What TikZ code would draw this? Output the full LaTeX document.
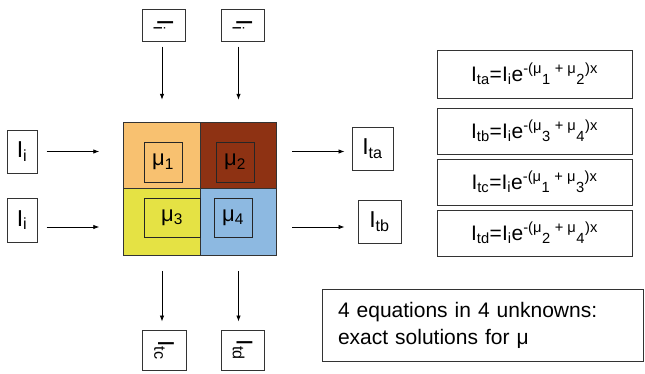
\documentclass[tikz,border=0pt]{standalone}
\usepackage{fontspec}
\setmainfont{Liberation Sans}
\usepackage{graphicx}
\usetikzlibrary{arrows.meta, positioning}
\definecolor{cellorange}{RGB}{248,193,112}
\definecolor{cellbrown}{RGB}{142,50,19}
\definecolor{cellyellow}{RGB}{229,226,68}
\definecolor{cellblue}{RGB}{141,185,225}

\begin{document}
\begin{tikzpicture}[x=1pt, y=-1pt,
        box/.style={rectangle, draw=black!80, line width=1pt, inner sep=0pt, align=center, font=\fontsize{23}{27}\selectfont},
        cell/.style={rectangle, draw=black!80, line width=1pt, inner sep=0pt, minimum width=76.5pt, minimum height=66.5pt},
        mubox/.style={rectangle, draw=black!85, line width=1pt, inner sep=0pt, minimum width=38pt, minimum height=40pt, font=\fontsize{22}{26}\selectfont},
        eqbox/.style={rectangle, draw=black!80, line width=1pt, inner sep=0pt, minimum width=195pt, minimum height=46pt, font=\fontsize{21}{25}\selectfont},
        arrow/.style={-{Latex[length=6pt, width=4.5pt]}, line width=0.8pt}
      ]
\useasboundingbox (0,0) rectangle (645,373);

% sample grid
\node[cell, fill=cellorange] (cell1) at (162,155.5) {};
      \node[cell, fill=cellbrown] (cell2) at (238.5,155.5) {};
      \node[cell, fill=cellyellow] (cell3) at (162,222) {};
      \node[cell, fill=cellblue] (cell4) at (238.5,222) {};

\node[mubox] (mu1) at (163,162) {μ\textsubscript{1}};
      \node[mubox] (mu2) at (235,162) {μ\textsubscript{2}};
      \node[mubox, minimum width=56pt, minimum height=39pt] (mu3) at (172,217.5) {μ\textsubscript{3}\hspace{18pt}};
      \node[mubox, minimum height=39pt] (mu4) at (233,217.5) {μ\textsubscript{4}};

% beams in and out
\node[box, minimum width=30pt, minimum height=43pt] (in1) at (22,151.5) {I\textsubscript{i}};
      \node[box, minimum width=30pt, minimum height=44pt] (in2) at (22,220) {I\textsubscript{i}};
      \node[box, minimum width=41pt, minimum height=43pt] (outa) at (372.5,148.5) {I\textsubscript{ta}};
      \node[box, minimum width=43pt, minimum height=43pt] (outb) at (379.5,221.5) {I\textsubscript{tb}};

\node[box, minimum width=43pt, minimum height=32pt] (top1) at (163.5,25) {\rotatebox{-90}{I\textsubscript{i}}};
      \node[box, minimum width=43pt, minimum height=32pt] (top2) at (242.5,25) {\rotatebox{-90}{I\textsubscript{i}}};
      \node[box, minimum width=44pt, minimum height=40pt] (bot1) at (164,350) {\rotatebox{-90}{I\textsubscript{tc}}};
      \node[box, minimum width=43pt, minimum height=40pt] (bot2) at (242.5,350) {\rotatebox{-90}{I\textsubscript{td}}};

\draw[arrow, shorten <=9pt, shorten >=24pt] (in1.east) -- (in1.east -| cell1.west);
      \draw[arrow, shorten <=9pt, shorten >=24pt] ([yshift=-7pt]in2.east) -- ([yshift=-7pt]in2.east -| cell3.west);
      \draw[arrow, shorten <=15pt, shorten >=7pt] (cell2.east |- in1.east) -- (outa.west |- in1.east);
      \draw[arrow, shorten <=15pt, shorten >=13pt] ([yshift=-7pt]in2.east -| cell4.east) -- ([yshift=-7pt]in2.east -| outb.west);

\draw[arrow, shorten <=5pt, shorten >=22pt] (cell1.north |- top1.south) -- (cell1.north);
      \draw[arrow, shorten <=5pt, shorten >=22pt] (cell2.north |- top2.south) -- (cell2.north);
      \draw[arrow, shorten <=15pt, shorten >=8pt] (cell3.south) -- (cell3.south |- bot1.north);
      \draw[arrow, shorten <=15pt, shorten >=8pt] (cell4.south) -- (cell4.south |- bot2.north);

% equations
\node[eqbox, minimum height=48pt] (eqa) at (534.5,74) {I\textsubscript{ta}=I\textsubscript{i}e\textsuperscript{-(μ}\textsubscript{1}\textsuperscript{ + μ}\textsubscript{2}\textsuperscript{)x}};
      \node[eqbox, below=9pt of eqa] (eqb) {I\textsubscript{tb}=I\textsubscript{i}e\textsuperscript{-(μ}\textsubscript{3}\textsuperscript{ + μ}\textsubscript{4}\textsuperscript{)x}};
      \node[eqbox, below=4pt of eqb] (eqc) {I\textsubscript{tc}=I\textsubscript{i}e\textsuperscript{-(μ}\textsubscript{1}\textsuperscript{ + μ}\textsubscript{3}\textsuperscript{)x}};
      \node[eqbox, below=4pt of eqc] (eqd) {I\textsubscript{td}=I\textsubscript{i}e\textsuperscript{-(μ}\textsubscript{2}\textsuperscript{ + μ}\textsubscript{4}\textsuperscript{)x}};

\node[eqbox, minimum width=321pt, minimum height=72pt, text width=289pt, align=left, font=\fontsize{21}{27}\selectfont] (note) at (482.5,325) {4 equations in 4 unknowns:\\ exact solutions for μ};

      \end{tikzpicture}
\end{document}
